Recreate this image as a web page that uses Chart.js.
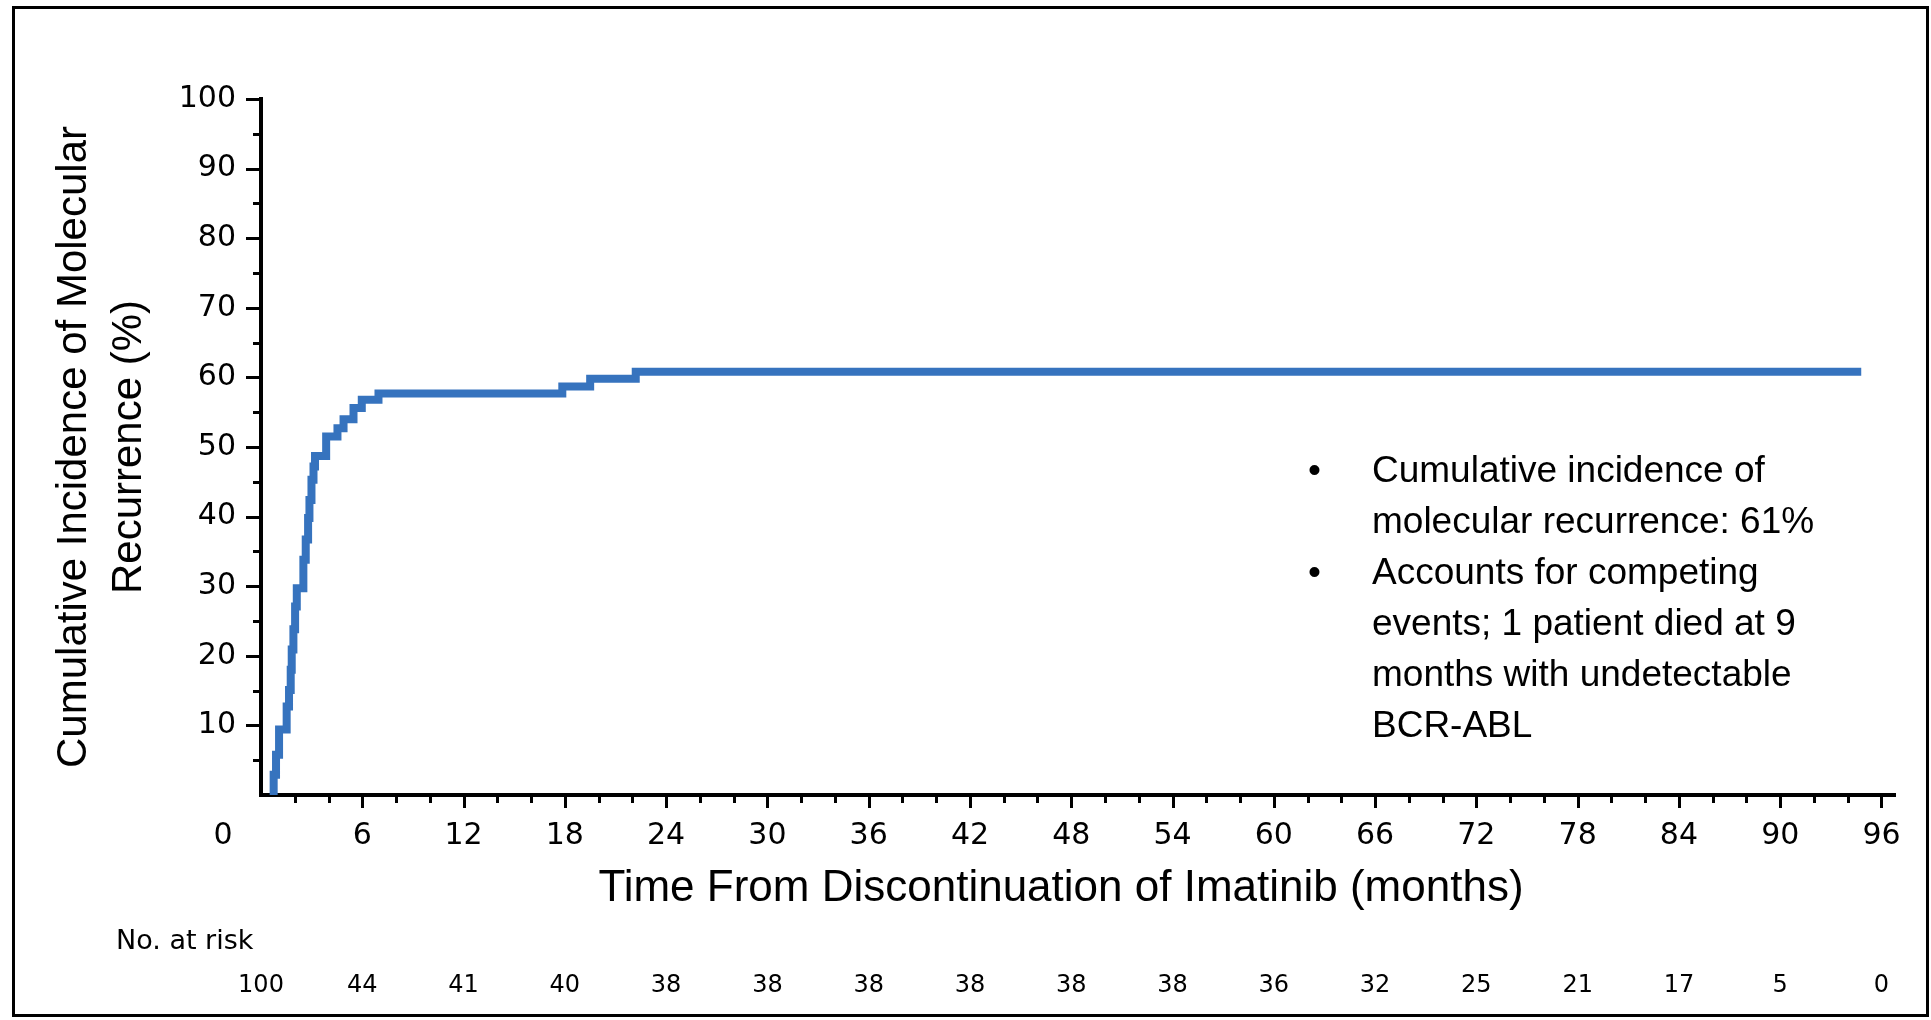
<!DOCTYPE html>
<html>
<head>
<meta charset="utf-8">
<title>Cumulative incidence of molecular recurrence</title>
<script src="https://cdn.jsdelivr.net/npm/chart.js@4.4.1/dist/chart.umd.min.js"></script>
<style>
  html, body { margin: 0; padding: 0; background: #fff; }
  #wrap { position: absolute; left: 0; top: 0; width: 1931px; height: 1020px; }
  #frame {
    position: absolute; left: 12px; top: 6px; width: 1917px; height: 1011px;
    box-sizing: border-box; border: 3px solid #000; pointer-events: none;
  }
</style>
</head>
<body>
<div id="wrap">
  <canvas id="chart" width="1931" height="1020"></canvas>
  <div id="frame"></div>
</div>
<script>
// Step curve (months, cumulative incidence %)
const months = [0.75, 0.75, 0.89, 1.07, 1.52, 1.66, 1.76, 1.82, 1.92, 2.02, 2.12, 2.51, 2.65, 2.79, 2.87, 2.99, 3.11, 3.2, 3.86, 4.53, 4.89, 5.48, 5.97, 6.96, 17.85, 19.5, 22.2, 94.8]
const incidence = [0, 2.9, 5.8, 9.4, 12.7, 15.1, 18.0, 20.9, 23.8, 27.1, 29.7, 33.8, 36.7, 39.8, 42.4, 45.3, 47.2, 48.7, 51.5, 52.7, 54.0, 55.6, 56.8, 57.7, 58.7, 59.8, 60.8, 60.8]

// Axis ticks
const xTickLabels = [0, 6, 12, 18, 24, 30, 36, 42, 48, 54, 60, 66, 72, 78, 84, 90, 96]
const yTickLabels = [10, 20, 30, 40, 50, 60, 70, 80, 90, 100]

// Number at risk table
const riskMonths = [0, 6, 12, 18, 24, 30, 36, 42, 48, 54, 60, 66, 72, 78, 84, 90, 96]
const atRisk = [100, 44, 41, 40, 38, 38, 38, 38, 38, 38, 36, 32, 25, 21, 17, 5, 0]

const xTitle = "Time From Discontinuation of Imatinib (months)"
const notes = [
  ["Cumulative incidence of", "molecular recurrence: 61%"],
  ["Accounts for competing", "events; 1 patient died at 9", "months with undetectable", "BCR-ABL"],
]

const tickFont = { family: "DejaVu Sans", size: 30 }

// major / minor tick marks on both axes, plus the "0" label and x title
const tickMarks = {
  id: "tickMarks",
  afterDraw(chart) {
    const { ctx, scales: { x, y } } = chart
    ctx.save()
    ctx.strokeStyle = "#000"
    ctx.lineWidth = 3
    ctx.beginPath()
    for (let v = 5; v <= 100; v += 5) {
      const py = Math.round(y.getPixelForValue(v)) + 0.5
      const len = yTickLabels.includes(v) ? 15 : 8
      ctx.moveTo(x.left, py)
      ctx.lineTo(x.left - len, py)
    }
    for (let m = 2; m <= 96; m += 2) {
      const px = Math.round(x.getPixelForValue(m)) + 0.5
      const len = xTickLabels.includes(m) ? 13 : 8
      ctx.moveTo(px, y.bottom)
      ctx.lineTo(px, y.bottom + len)
    }
    ctx.stroke()

    // the "0" label sits left of the y axis
    ctx.fillStyle = "#000"
    ctx.font = tickFont.size + "px " + tickFont.family
    ctx.textAlign = "center"
    ctx.textBaseline = "middle"
    ctx.fillText(String(xTickLabels[0]), x.getPixelForValue(0) - 38, y.bottom + 41)

    // x axis title, a little left of the axis centre as in the figure
    ctx.font = "44px 'Liberation Sans'"
    ctx.fillText(xTitle, 1061, 889)
    ctx.restore()
  },
}

const riskTable = {
  id: "riskTable",
  afterDraw(chart) {
    const { ctx, scales: { x } } = chart
    ctx.save()
    ctx.fillStyle = "#000"
    ctx.textBaseline = "middle"
    ctx.font = "27px 'DejaVu Sans'"
    ctx.textAlign = "left"
    ctx.fillText("No. at risk", 116, 942)
    ctx.font = "24px 'DejaVu Sans'"
    ctx.textAlign = "center"
    riskMonths.forEach((m, i) => {
      ctx.fillText(String(atRisk[i]), x.getPixelForValue(m), 986)
    })
    ctx.restore()
  },
}

const notesBox = {
  id: "notesBox",
  afterDraw(chart) {
    const ctx = chart.ctx
    ctx.save()
    ctx.fillStyle = "#000"
    ctx.textBaseline = "middle"
    ctx.textAlign = "left"
    ctx.font = "37px 'Liberation Sans'"
    let yy = 472
    notes.forEach((block) => {
      ctx.fillText("\u2022", 1308, yy)
      block.forEach((line) => {
        ctx.fillText(line, 1372, yy)
        yy += 51
      })
    })
    ctx.restore()
  },
}

new Chart(document.getElementById("chart"), {
  type: "line",
  data: {
    datasets: [
      {
        data: months.map((m, i) => ({ x: m, y: incidence[i] })),
        stepped: "before",
        borderColor: "#3673be",
        borderWidth: 8,
        borderJoinStyle: "miter",
        borderCapStyle: "butt",
        pointRadius: 0,
        fill: false,
      },
    ],
  },
  options: {
    responsive: false,
    animation: false,
    layout: { padding: { top: 99, right: 36, left: 0, bottom: 0 } },
    plugins: { legend: { display: false }, tooltip: { enabled: false } },
    scales: {
      x: {
        type: "linear",
        min: 0,
        max: 96.8,
        afterFit: (s) => { s.height = 225 },
        afterBuildTicks: (s) => { s.ticks = xTickLabels.filter((v) => v > 0).map((v) => ({ value: v })) },
        grid: { display: false, drawTicks: false },
        border: { display: true, color: "#000", width: 4 },
        ticks: { color: "#000", font: tickFont, padding: 23, maxRotation: 0, autoSkip: false },
      },
      y: {
        min: 0,
        max: 100,
        afterFit: (s) => { s.width = 261 },
        afterBuildTicks: (s) => { s.ticks = yTickLabels.map((v) => ({ value: v })) },
        grid: { display: false, drawTicks: false },
        border: { display: true, color: "#000", width: 4 },
        ticks: { color: "#000", font: tickFont, padding: 25 },
        title: {
          display: true,
          text: ["Cumulative Incidence of Molecular", "Recurrence (%)"],
          color: "#000",
          font: { family: "Liberation Sans", size: 42, lineHeight: 55 / 42 },
          padding: { top: 46.5, bottom: 0 },
        },
      },
    },
  },
  plugins: [tickMarks, riskTable, notesBox],
})
</script>
</body>
</html>
